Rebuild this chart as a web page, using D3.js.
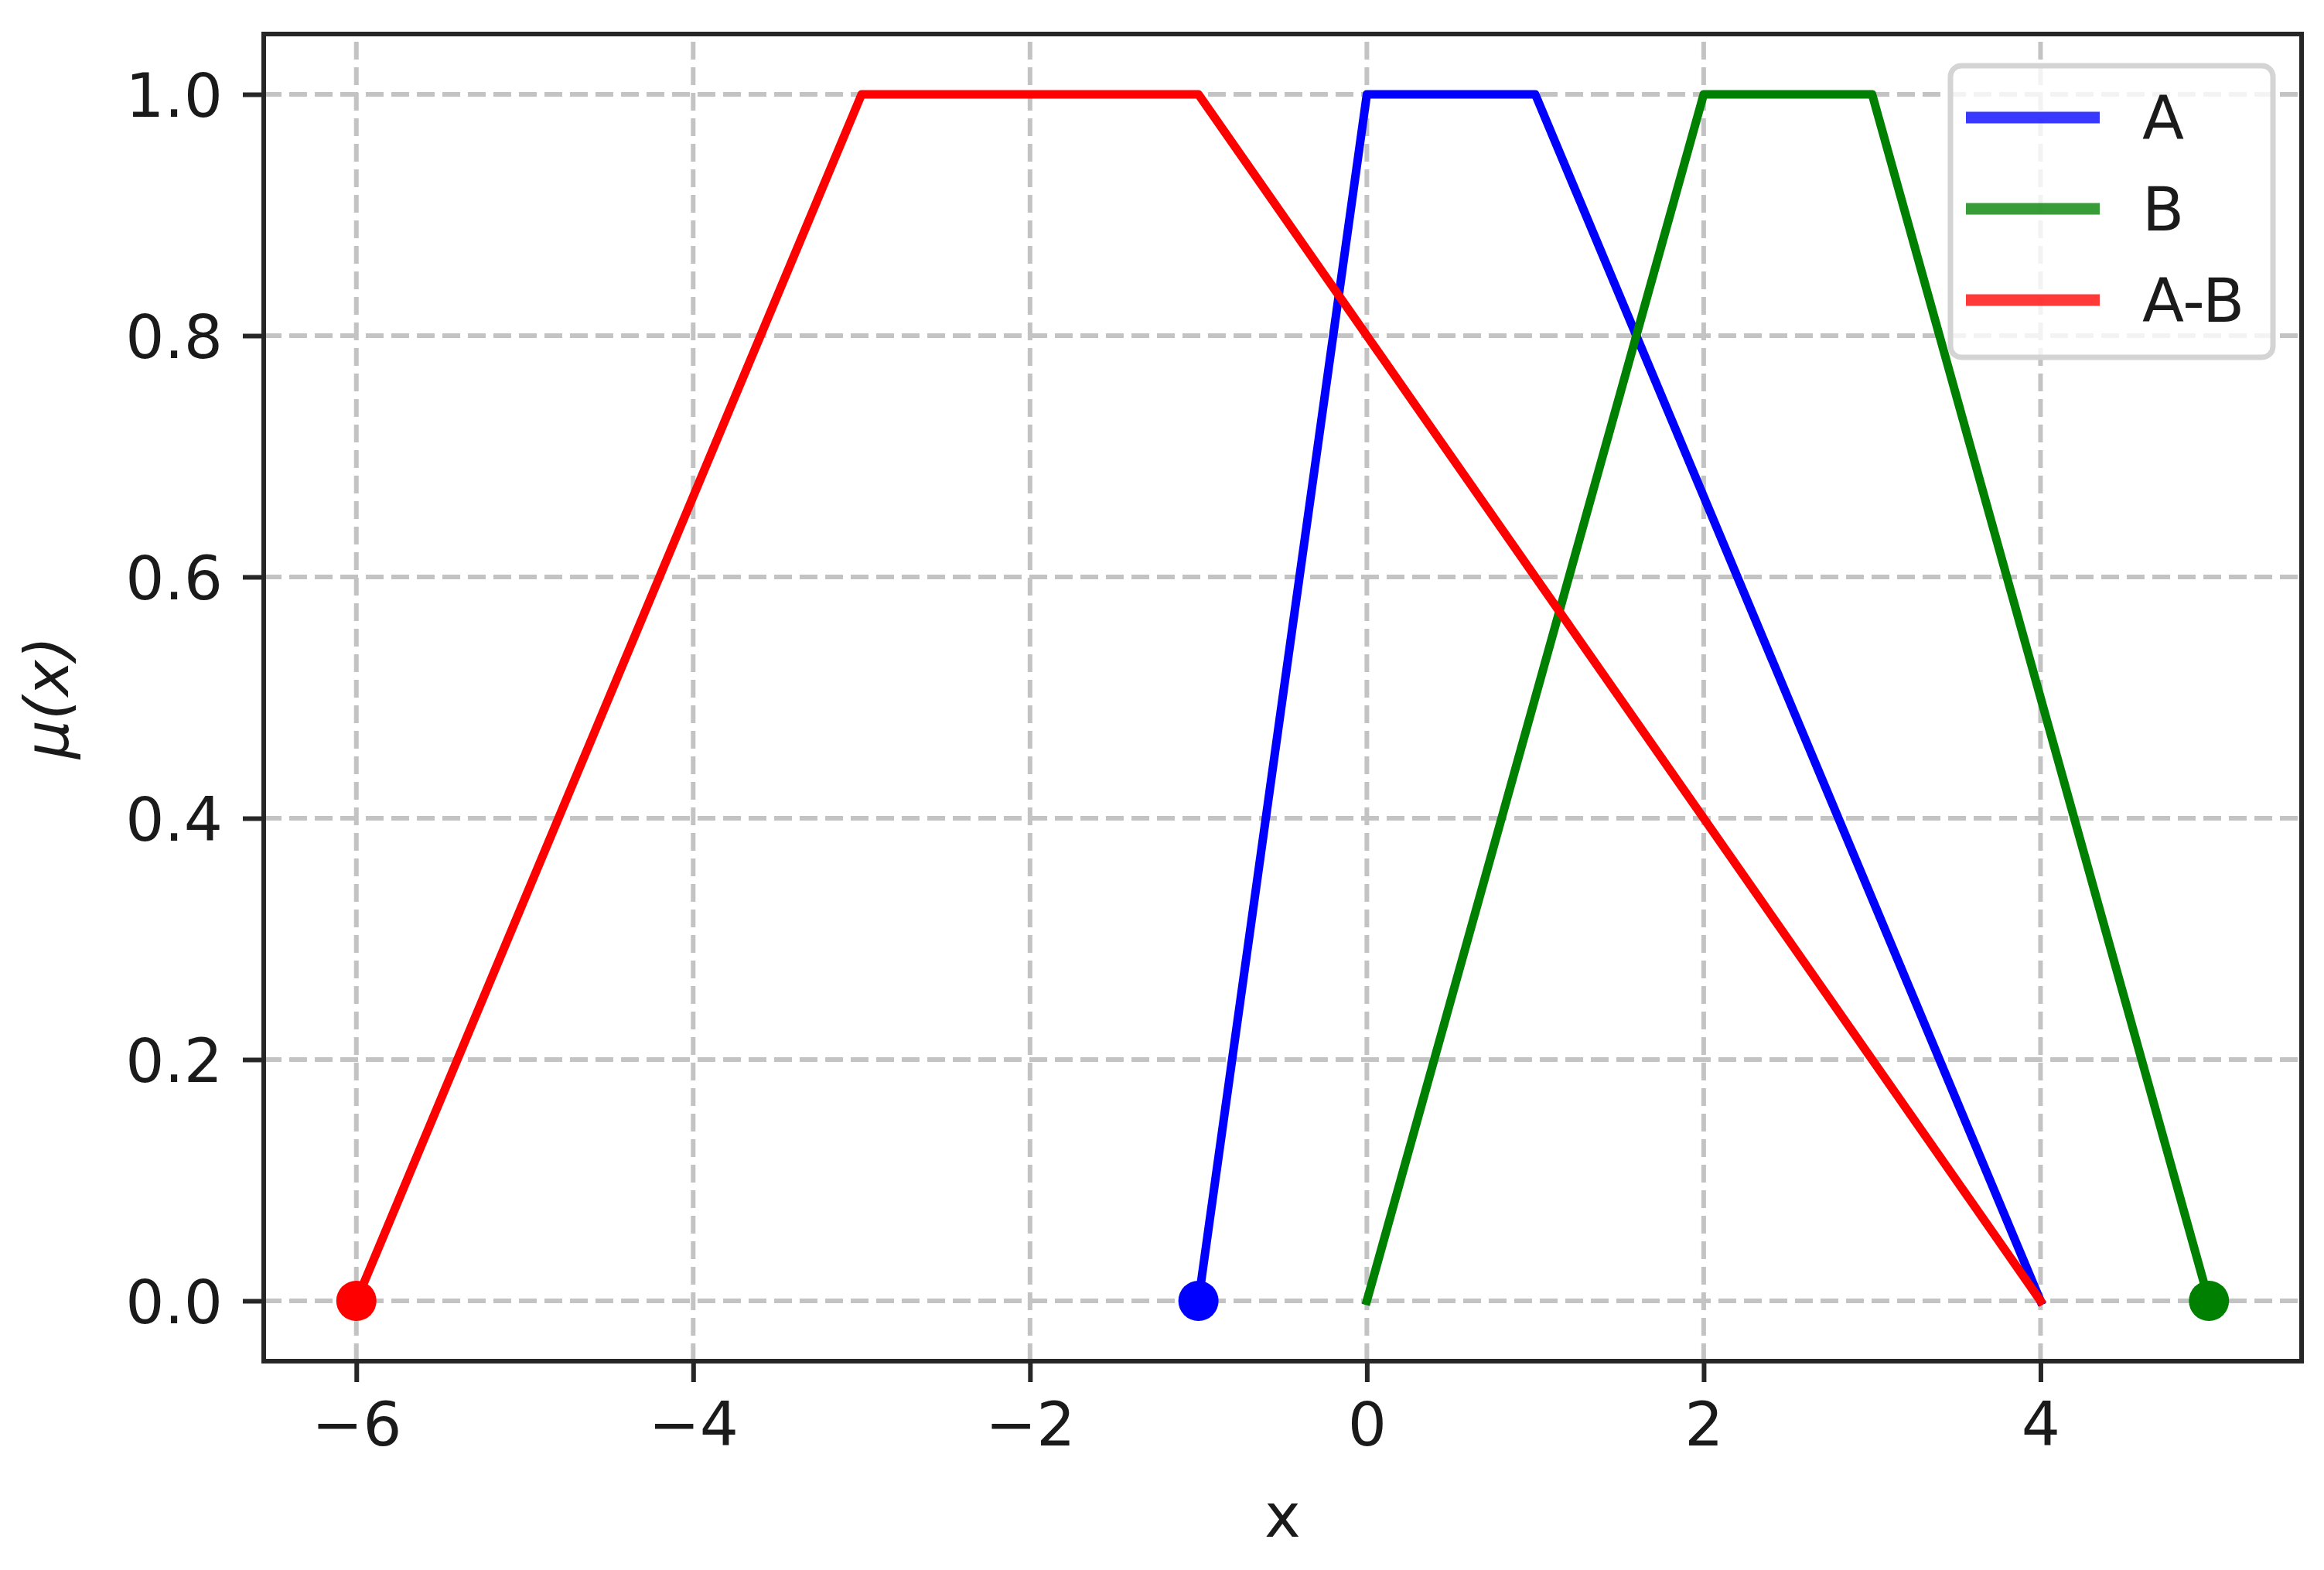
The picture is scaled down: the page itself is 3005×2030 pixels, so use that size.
<!DOCTYPE html>
<html>
<head>
<meta charset="utf-8">
<script src="https://cdn.jsdelivr.net/npm/d3@7"></script>
<style>
  html, body { margin: 0; padding: 0; background: #fff; }
  svg { display: block; }
  text { font-family: 'DejaVu Sans', sans-serif; }
</style>
</head>
<body>
<script>
// membership functions (x, mu)
const seriesNames = ['A', 'B', 'A-B'];
const seriesColors = ['#0000ff', '#008000', '#ff0000'];
const aX = [-1, 0, 1, 4];
const aY = [0, 1, 1, 0];
const bX = [0, 2, 3, 5];
const bY = [0, 1, 1, 0];
const abX = [-6, -3, -1, 4];
const abY = [0, 1, 1, 0];
// single dots at the ends
const dotX = [-1, 5, -6];
const dotY = [0, 0, 0];

const xTicks = [-6, -4, -2, 0, 2, 4];
const yTicks = [0, 0.2, 0.4, 0.6, 0.8, 1.0];

const width = 3005;
const height = 2030;
const margin = {top: 44, right: 29, bottom: 270, left: 341};
const fs = 79;

const svg = d3.select('body').append('svg')
    .attr('width', width)
    .attr('height', height);

const x = d3.scaleLinear()
    .domain([-6.55, 5.55])
    .range([margin.left, width - margin.right]);

const y = d3.scaleLinear()
    .domain([-0.05, 1.05])
    .range([height - margin.bottom, margin.top]);

// grid
const grid = svg.append('g')
    .attr('stroke', '#b0b0b0')
    .attr('stroke-width', 6)
    .attr('stroke-dasharray', '23,10')
    .attr('opacity', 0.75);

grid.selectAll('line.gx')
  .data(xTicks)
  .join('line')
    .attr('x1', d => x(d))
    .attr('x2', d => x(d))
    .attr('y1', y.range()[0])
    .attr('y2', y.range()[1]);

grid.selectAll('line.gy')
  .data(yTicks)
  .join('line')
    .attr('class', 'gy')
    .attr('x1', x.range()[0])
    .attr('x2', x.range()[1])
    .attr('y1', d => y(d))
    .attr('y2', d => y(d));

// lines
const series = [
  {name: seriesNames[0], xs: aX, ys: aY},
  {name: seriesNames[1], xs: bX, ys: bY},
  {name: seriesNames[2], xs: abX, ys: abY}
];

const line = d3.line()
    .x(d => x(d[0]))
    .y(d => y(d[1]));

svg.append('g')
  .selectAll('path')
  .data(series)
  .join('path')
    .attr('fill', 'none')
    .attr('stroke', (d, i) => seriesColors[i])
    .attr('stroke-width', 11)
    .attr('stroke-linejoin', 'round')
    .attr('stroke-linecap', 'square')
    .attr('d', d => line(d.xs.map((v, i) => [v, d.ys[i]])));

svg.append('g')
  .selectAll('circle')
  .data(dotX)
  .join('circle')
    .attr('cx', d => x(d))
    .attr('cy', (d, i) => y(dotY[i]))
    .attr('r', 26)
    .attr('fill', (d, i) => seriesColors[i]);

// axes
const fmtX = d => d < 0 ? '\u2212' + Math.abs(d) : String(d);

const xAxis = svg.append('g')
    .attr('transform', `translate(0,${height - margin.bottom})`)
    .call(d3.axisBottom(x).tickValues(xTicks).tickFormat(fmtX).tickSize(27).tickPadding(26));

const yAxis = svg.append('g')
    .attr('transform', `translate(${margin.left},0)`)
    .call(d3.axisLeft(y).tickValues(yTicks).tickFormat(d3.format('.1f')).tickSize(27).tickPadding(26));

[xAxis, yAxis].forEach(g => {
  g.select('.domain').remove();
  g.selectAll('.tick line').attr('stroke', '#262626').attr('stroke-width', 6);
  g.selectAll('.tick text')
      .attr('fill', '#1a1a1a')
      .style('font-size', fs + 'px')
      .style('font-family', 'DejaVu Sans');
});
yAxis.selectAll('.tick text').attr('dy', '0.36em');

// frame
svg.append('rect')
    .attr('x', margin.left)
    .attr('y', margin.top)
    .attr('width', width - margin.left - margin.right)
    .attr('height', height - margin.top - margin.bottom)
    .attr('fill', 'none')
    .attr('stroke', '#262626')
    .attr('stroke-width', 6);

// axis labels
svg.append('text')
    .attr('x', (margin.left + width - margin.right) / 2)
    .attr('y', 1987)
    .attr('text-anchor', 'middle')
    .attr('fill', '#1a1a1a')
    .style('font-size', fs + 'px')
    .text('x');

svg.append('text')
    .attr('transform', `translate(88,${(margin.top + height - margin.bottom) / 2}) rotate(-90)`)
    .attr('text-anchor', 'middle')
    .attr('fill', '#1a1a1a')
    .style('font-size', fs + 'px')
    .style('font-style', 'italic')
    .text('\u03bc(x)');

// legend
const legend = svg.append('g')
    .attr('transform', 'translate(2522,85)');

legend.append('rect')
    .attr('width', 417)
    .attr('height', 377)
    .attr('rx', 14)
    .attr('fill', 'white')
    .attr('fill-opacity', 0.8)
    .attr('stroke', '#d4d4d4')
    .attr('stroke-width', 7);

const item = legend.selectAll('g.item')
  .data(seriesNames)
  .join('g')
    .attr('class', 'item')
    .attr('transform', (d, i) => `translate(0,${67 + i * 118})`);

item.append('line')
    .attr('x1', 20)
    .attr('x2', 193)
    .attr('stroke', (d, i) => seriesColors[i])
    .attr('stroke-opacity', 0.78)
    .attr('stroke-width', 15);

item.append('text')
    .attr('x', 248)
    .attr('dy', '0.36em')
    .attr('fill', '#1a1a1a')
    .style('font-size', fs + 'px')
    .text(d => d);
</script>
</body>
</html>
